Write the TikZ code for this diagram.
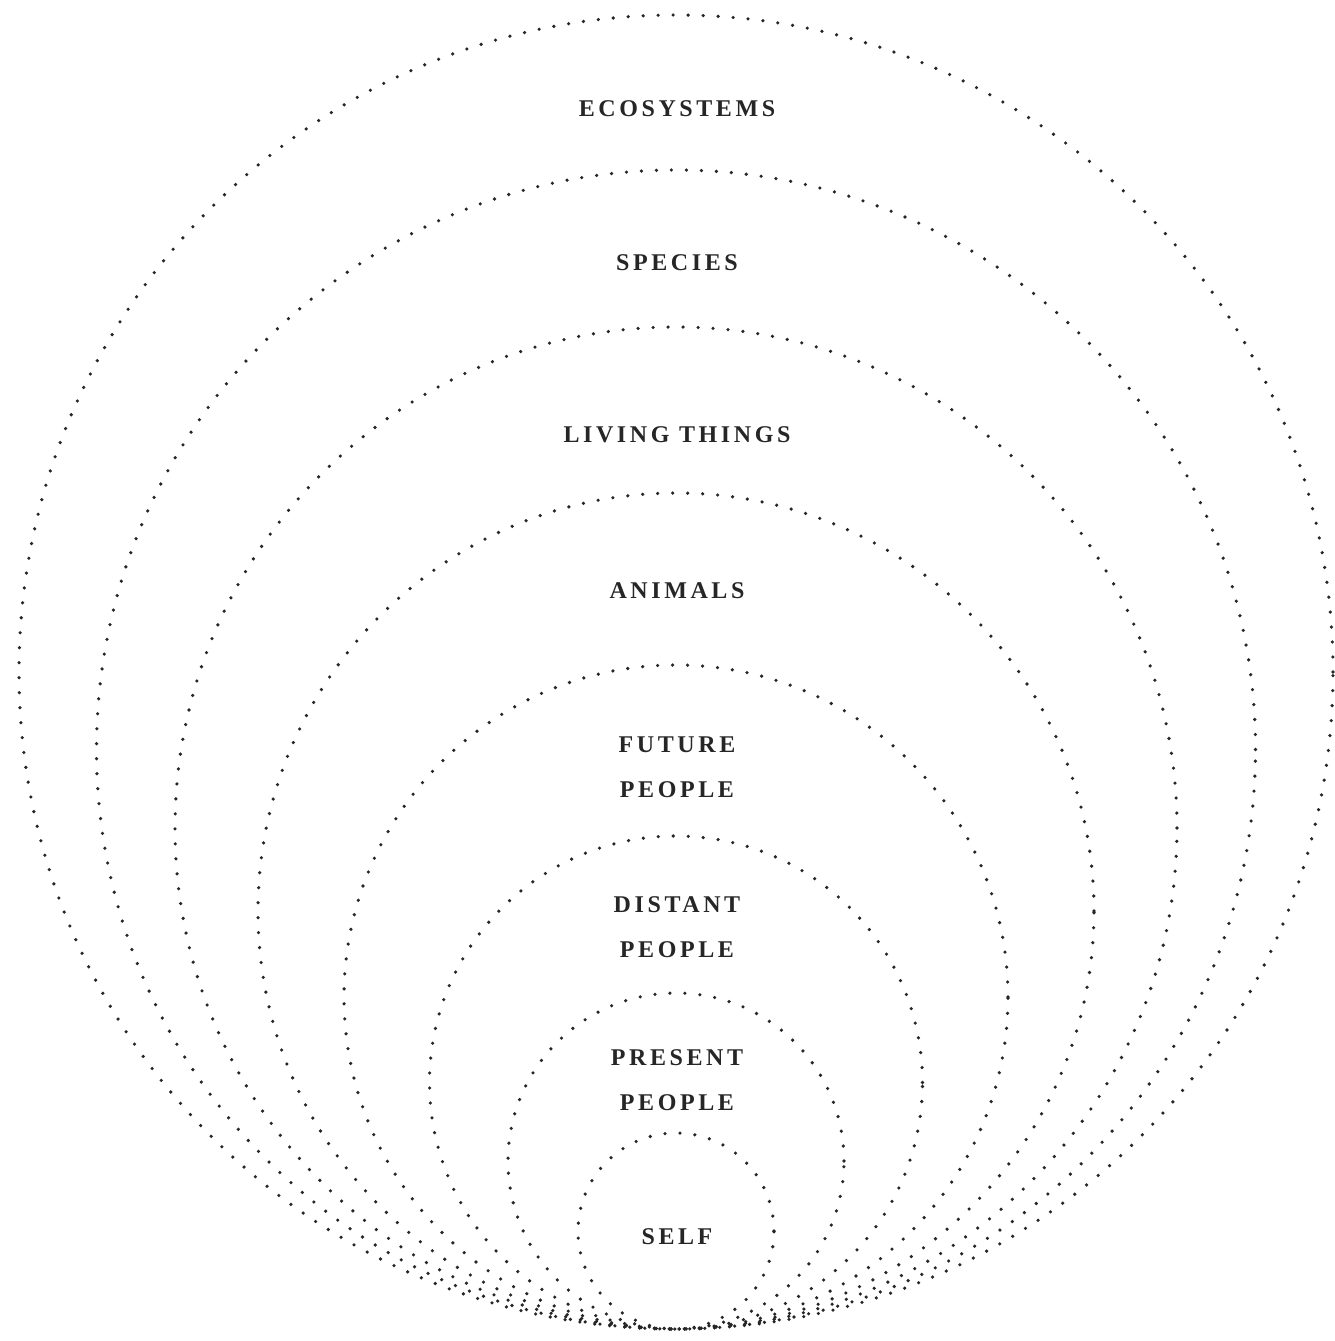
\documentclass[tikz,border=0pt]{standalone}
\usepackage{fontspec}
\newfontfamily\labfont[LetterSpace=15]{Liberation Serif}
\begin{document}
\begin{tikzpicture}[x=0.5pt,y=-0.5pt,
  dotline/.style={draw=black!85, line width=1.8pt, line cap=round, dash pattern=on 0pt off 7.5pt},
  lab/.style={font=\labfont\bfseries\fontsize{12}{22.5}\selectfont, text=black!85, align=center, inner sep=0pt}]
\useasboundingbox (0,0) rectangle (1335,1341);
\foreach \r in {657,579.5,501,418,332,246.5,168,98}{
  \draw[dotline] (676,{1329-\r}) circle[radius=\r*0.5pt];
}
\node[lab] (eco) at (677,109) {ECOSYSTEMS};
\node[lab] (spe) at (677,263) {SPECIES};
\node[lab] (liv) at (677,435) {LIVING THINGS};
\node[lab] (ani) at (677,591) {ANIMALS};
\node[lab] (fut) at (677,767) {FUTURE\\PEOPLE};
\node[lab] (dis) at (677,927) {DISTANT\\PEOPLE};
\node[lab] (pre) at (677,1080) {PRESENT\\PEOPLE};
\node[lab] (sel) at (677,1237) {SELF};
\end{tikzpicture}
\end{document}
